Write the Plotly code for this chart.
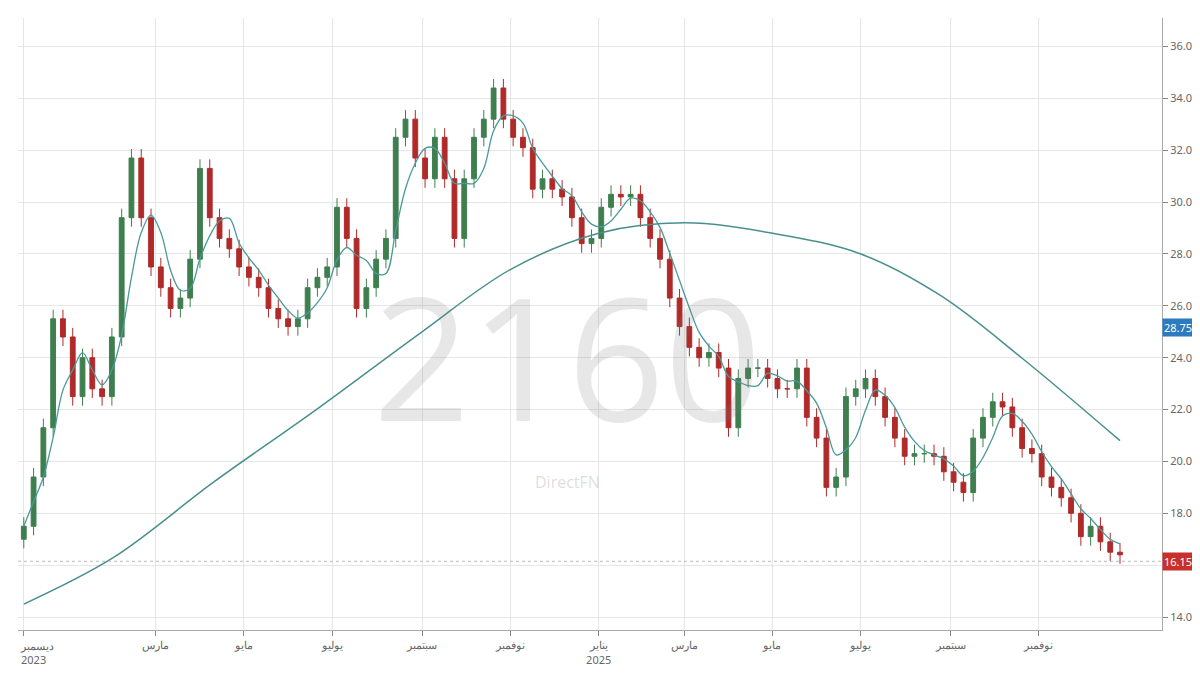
import plotly.graph_objects as go
import pandas as pd

closes = [17.5,19.4,21.3,25.5,24.8,22.5,24.0,22.8,22.5,24.8,29.4,31.7,29.4,27.5,26.7,25.9,26.3,27.8,31.3,29.4,
          28.6,28.2,27.5,27.1,26.7,25.9,25.5,25.2,25.5,26.7,27.1,27.5,29.8,28.6,25.9,26.7,27.8,28.6,32.5,33.2,
          31.7,30.9,32.5,30.9,28.6,30.9,32.5,33.2,34.4,33.2,32.5,32.1,30.5,30.9,30.5,30.2,29.4,28.4,28.6,29.8,
          30.3,30.2,30.3,29.4,28.6,27.8,26.3,25.2,24.4,24.0,24.2,23.6,21.3,23.2,23.6,23.6,23.2,22.8,22.8,23.6,
          21.7,20.9,19.0,19.4,22.5,22.8,23.2,22.5,21.7,20.9,20.2,20.3,20.3,20.2,19.6,19.2,18.8,20.9,21.7,22.3,
          22.1,21.3,20.5,20.3,19.4,19.0,18.6,18.0,17.1,17.5,16.9,16.5,16.4]
first_open = 17.0
ma_long_dates = ["2023-12-01","2024-02-01","2024-04-10","2024-06-20","2024-09-01","2024-11-01","2025-01-01",
                 "2025-03-01","2025-05-01","2025-07-01","2025-08-25","2025-10-20","2025-12-27"]
ma_long_vals = [14.5,16.3,19.2,22.0,25.0,27.4,28.8,29.2,28.8,28.0,26.4,24.0,20.8]
tick_dates = ["2023-12-01","2024-03-01","2024-05-01","2024-07-01","2024-09-01","2024-11-01","2025-01-01",
              "2025-03-01","2025-05-01","2025-07-01","2025-09-01","2025-11-01"]
tick_text = ["","مارس","مايو","يوليو","سبتمبر","نوفمبر","يناير<br>2025",
             "مارس","مايو","يوليو","سبتمبر","نوفمبر"]
first_tick_text = "ديسمبر<br>2023"
y_ticks = [14,16,18,20,22,24,26,28,30,32,34,36]
last_price = 16.15
ma_label = 28.75

dates = pd.date_range("2023-12-01", "2025-12-27", periods=len(closes))
opens = [first_open] + closes[:-1]
highs = [max(o, c) + 0.35 for o, c in zip(opens, closes)]
lows = [min(o, c) - 0.35 for o, c in zip(opens, closes)]
ma_short = pd.Series(closes).rolling(4, min_periods=1).mean()

fig = go.Figure()
fig.add_trace(go.Candlestick(x=dates, open=opens, high=highs, low=lows, close=closes,
    increasing=dict(line=dict(color="#3f7f4f", width=1), fillcolor="#3f7f4f"),
    decreasing=dict(line=dict(color="#b02a2a", width=1), fillcolor="#b02a2a"),
    whiskerwidth=0, showlegend=False))
fig.add_trace(go.Scatter(x=dates, y=ma_short, mode="lines", line=dict(color="#4a9a9a", width=1.3),
                         line_shape="spline", showlegend=False))
fig.add_trace(go.Scatter(x=pd.to_datetime(ma_long_dates), y=ma_long_vals, mode="lines",
                         line=dict(color="#4a8f8f", width=1.5), line_shape="spline", showlegend=False))

fig.add_annotation(text="2160", x=0.48, y=0.45, xref="paper", yref="paper", showarrow=False,
                   font=dict(size=170, color="rgba(120,120,120,0.18)", family="Open Sans"))
fig.add_annotation(text="DirectFN", x=0.48, y=0.22, xref="paper", yref="paper", showarrow=False,
                   font=dict(size=16, color="rgba(120,120,120,0.25)", family="Open Sans"))
fig.add_annotation(text=first_tick_text, x=pd.to_datetime(tick_dates[0]), y=0, xref="x", yref="paper",
                   yanchor="top", xanchor="left", yshift=-6, xshift=-6, align="left", showarrow=False,
                   font=dict(size=11, color="#666"))
fig.add_annotation(text="%.2f" % last_price, x=1.0, y=last_price, xref="paper", yref="y", xanchor="left",
                   showarrow=False, bgcolor="#c8302c", font=dict(color="white", size=11))
fig.add_annotation(text="%.2f" % ma_label, x=1.0, y=25.15, xref="paper", yref="y", xanchor="left",
                   showarrow=False, bgcolor="#2b7bbf", font=dict(color="white", size=11))
fig.add_hline(y=last_price, line=dict(color="#bbbbbb", width=1, dash="dot"))

fig.update_layout(width=1200, height=675, paper_bgcolor="white", plot_bgcolor="white",
                  margin=dict(l=10, r=40, t=10, b=53), font=dict(family="Noto Sans", color="#666", size=11))
fig.update_xaxes(rangeslider_visible=False, tickvals=pd.to_datetime(tick_dates), ticktext=tick_text,
                 showgrid=True, gridcolor="#e6e6e6", ticks="outside", ticklen=5, tickcolor="#888",
                 showline=True, linecolor="#aaa", range=["2023-11-27", "2026-01-25"])
fig.update_yaxes(side="right", range=[13.5, 37.1], tickvals=y_ticks,
                 ticktext=["" if v == 16 else "%.2f" % v for v in y_ticks],
                 showgrid=True, gridcolor="#e6e6e6", ticks="outside", ticklen=5, tickcolor="#888",
                 showline=True, linecolor="#aaa")
fig.write_html("out.html")
